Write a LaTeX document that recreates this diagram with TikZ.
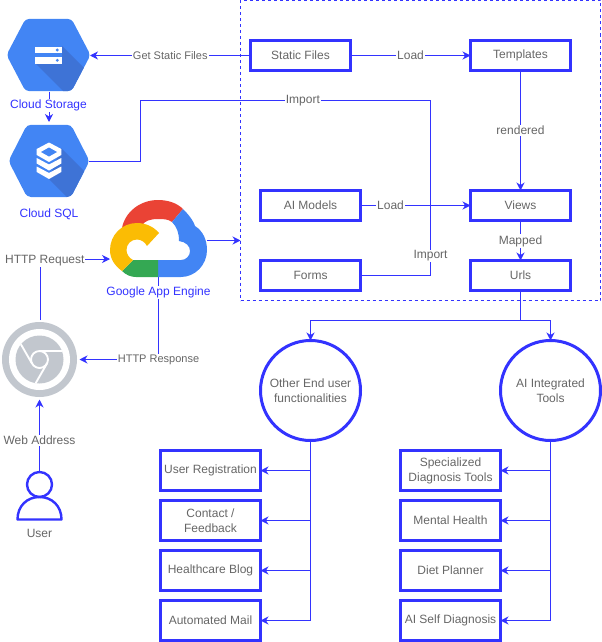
\documentclass[tikz,border=0pt]{standalone}
\usepackage{fontspec}
\setmainfont{Liberation Sans}
\usetikzlibrary{arrows.meta}
\definecolor{edgeblue}{HTML}{3333FF}
\definecolor{txtgray}{HTML}{666666}
\definecolor{gblue}{HTML}{4285F4}
\definecolor{gshade}{HTML}{3E73D6}
\definecolor{gred}{HTML}{EA4335}
\definecolor{gyellow}{HTML}{FBBC04}
\definecolor{ggreen}{HTML}{34A853}
\definecolor{chromegray}{HTML}{C2C7CE}
\tikzset{
  conn/.style={draw=edgeblue,line width=.75pt,-{Stealth[length=6pt,width=6pt,inset=1.9pt]}},
  plainconn/.style={draw=edgeblue,line width=.75pt},
  sq/.style={rectangle,draw=edgeblue,line width=2.25pt,minimum width=75pt,inner sep=0pt,outer sep=0pt,
    text=txtgray,align=center,font=\fontsize{9}{11.25}\selectfont},
  sqshort/.style={sq,minimum height=22.5pt},
  sqtall/.style={sq,minimum height=30pt},
  hub/.style={circle,draw=edgeblue,line width=2.25pt,minimum size=75pt,inner sep=0pt,outer sep=0pt,
    text=txtgray,align=center,font=\fontsize{9}{11.25}\selectfont},
  lbl/.style={fill=white,text=txtgray,inner sep=.75pt,font=\fontsize{9}{11.25}\selectfont},
  smalllbl/.style={lbl,font=\fontsize{8.25}{10.5}\selectfont},
  bluelbl/.style={fill=white,text=edgeblue,inner sep=.75pt,font=\fontsize{9}{11.25}\selectfont},
  grouparea/.style={rectangle,draw=edgeblue,line width=.75pt,dash pattern=on 2.25pt off 2.25pt,
    minimum width=270pt,minimum height=225pt,inner sep=0pt,outer sep=0pt},
  iconarea/.style={rectangle,inner sep=0pt,outer sep=0pt,minimum width=#1}
}
\begin{document}
\begin{tikzpicture}[x=.75pt,y=-.75pt]
\useasboundingbox (0,0) rectangle (602,642);
% group
\node[grouparea] (group) at (420.5,150.5) {};
% icon anchors
\node[iconarea=61.5pt,minimum height=54pt] (storage) at (49,55.5) {};
\node[iconarea=60pt,minimum height=58.5pt] (sql) at (49,161) {};
\node[iconarea=72.75pt,minimum height=57.75pt] (app) at (158.5,238.5) {};
\node[iconarea=60pt,minimum height=60pt] (chrome) at (39.5,359.5) {};
\node[iconarea=33pt,minimum height=36pt] (user) at (39.5,495.5) {};
\coordinate (appIn) at (110,259);
\coordinate (appOut) at (207,240.5);
\coordinate (chromeTop) at (40.5,320);
\coordinate (reqCorner) at (40.5,259);
\coordinate (respCorner) at (158.5,359.5);
\coordinate (importA) at (140.5,100.5);
\coordinate (importB) at (430.5,100.5);
\coordinate (importC) at (140.5,161);
\coordinate (importD) at (430.5,275.5);
\coordinate (split) at (520.5,320.5);
% boxes
\node[sqshort] (static) at (300.5,55.5) {Static Files};
\node[sqshort] (templates) at (520.5,55.5) {Templates};
\node[sqshort] (aimodels) at (310.5,205.5) {AI Models};
\node[sqshort] (views) at (520.5,205.5) {Views};
\node[sqshort] (forms) at (310.5,275.5) {Forms};
\node[sqshort] (urls) at (520.5,275.5) {Urls};
\node[hub] (other) at (310.5,390.5) {Other End user\\functionalities};
\node[hub] (aitools) at (550.5,390.5) {AI Integrated\\Tools};
\node[sqtall] (ureg) at (210.5,470.5) {User Registration};
\node[sqtall] (contact) at (210.5,520.5) {Contact /\\Feedback};
\node[sqtall] (blog) at (210.5,570.5) {Healthcare Blog};
\node[sqtall] (mail) at (210.5,620.5) {Automated Mail};
\node[sqtall] (special) at (450.5,470.5) {Specialized\\Diagnosis Tools};
\node[sqtall] (mental) at (450.5,520.5) {Mental Health};
\node[sqtall] (diet) at (450.5,570.5) {Diet Planner};
\node[sqtall] (selfdiag) at (450.5,620.5) {AI Self Diagnosis};
% connectors
\draw[conn] (static.west) -- node[smalllbl,pos=.5] {Get Static Files} (storage.east);
\draw[conn] (storage.south) -- (sql.north);
\draw[conn] (static.east) -- node[lbl,pos=.5] {Load} (templates.west);
\draw[conn] (templates.south) -- node[lbl,pos=.5] {rendered} (views.north);
\draw[plainconn] (sql.east) -- (importC) -- (importA) -- node[lbl,pos=.56,yshift=-.4pt] {Import} (importB) -- node[lbl,pos=.88,yshift=-1.1pt] {Import} (importD) -- (forms.east);
\draw[conn] (aimodels.east) -- node[lbl,pos=.273] {Load} (views.west);
\draw[conn] (views.south) -- node[lbl,pos=.5,yshift=-.4pt] {Mapped} (urls.north);
\draw[conn] (appOut) -- (group.west |- appOut);
\draw[conn] (chromeTop) -- (reqCorner) node[lbl,xshift=3.2pt,yshift=-1.1pt] {HTTP Request} -- (appIn);
\draw[conn] (app.south) -- (respCorner) -- node[smalllbl,pos=0,yshift=-.6pt] {HTTP Response} (chrome.east);
\draw[conn] (user.north) -- node[lbl,pos=.43] {Web Address} (chrome.south);
\draw[plainconn] (urls.south) -- (split);
\draw[conn] (split) -| (other.north);
\draw[conn] (split) -| (aitools.north);
\foreach \t in {ureg,contact,blog,mail} \draw[conn] (other.south) |- (\t.east);
\foreach \t in {special,mental,diet,selfdiag} \draw[conn] (aitools.south) |- (\t.east);
% Cloud Storage icon
\begin{scope}
  \clip[rounded corners=3pt] (6.5,55) -- (25.5,18.8) -- (71.5,18.8) -- (90.5,55) -- (71.5,91.2) -- (25.5,91.2) -- cycle;
  \fill[gblue] (0,10) rectangle (100,100);
  \fill[gshade] (35,63) -- (62,63) -- (62,46) -- (92,76) -- (92,96) -- (68,96) -- cycle;
\end{scope}
\fill[white] (34.5,46.7) rectangle (62.3,53.3);
\fill[white] (34.5,56.7) rectangle (62.3,64);
\fill[gblue] (57.3,50) circle[radius=1.6];
\fill[gblue] (57.3,60.3) circle[radius=1.6];
% Cloud SQL icon
\begin{scope}
  \clip[rounded corners=3pt] (8.5,161) -- (27,124.8) -- (71,124.8) -- (89.5,161) -- (71,197) -- (27,197) -- cycle;
  \fill[gblue] (0,115) rectangle (100,205);
  \fill[gshade] (61,148) -- (92,179) -- (92,202) -- (72,202) -- (49,179) -- cycle;
\end{scope}
\fill[white] (49,142.5) -- (61.3,149) -- (61.3,155) -- (49,162) -- (36.7,155) -- (36.7,149) -- cycle;
\fill[gblue] (49,147.5) -- (57,152) -- (49,156.5) -- (41,152) -- cycle;
\fill[white] (36.7,158) -- (49,164.5) -- (61.3,158) -- (61.3,163.5) -- (49,170.5) -- (36.7,163.5) -- cycle;
\fill[white] (36.7,166.5) -- (49,173) -- (61.3,166.5) -- (61.3,172) -- (49,179) -- (36.7,172) -- cycle;
% Google Cloud logo
\fill[gred] (122,228) .. controls (125,212) and (140,200) .. (158,200) .. controls (168,200) and (177,203) .. (183,209) -- (172,222) .. controls (168,219) and (163,219) .. (158,219) .. controls (150,219) and (145,221) .. (142,225) -- cycle;
\fill[gblue] (183,209) .. controls (190,216) and (194,222) .. (195,226) .. controls (203,231) and (207,240) .. (207,250) .. controls (207,265) and (195,277) .. (181,277) -- (158,277) -- (158,260) -- (181,260) .. controls (186,260) and (190,256) .. (190,251) .. controls (190,246) and (186,242) .. (179,241) .. controls (179,233) and (177,227) .. (172,222) -- cycle;
\fill[ggreen] (122,271) -- (133,260) -- (158,260) -- (158,277) -- (136,277) .. controls (131,277) and (126,275) .. (122,271) -- cycle;
\fill[gyellow] (122,271) .. controls (115,266) and (110,259) .. (110,250) .. controls (110,235) and (122,223) .. (137,223) .. controls (146,223) and (154,227) .. (159,233) -- (147,246) .. controls (145,242) and (141,239.5) .. (137,239.5) .. controls (131,239.5) and (126.5,244) .. (126.5,250) .. controls (126.5,254) and (129,258) .. (133,260) -- cycle;
% Chrome icon
\fill[chromegray] (39.5,359.5) circle[radius=37.5];
\fill[white] (39.5,359.5) circle[radius=30.5];
\fill[chromegray] (39.5,359.5) circle[radius=24];
\draw[white,line width=1.4pt] (39.5,359.5) circle[radius=8.5];
\foreach \a in {0,120,240}
  \draw[white,line width=1.4pt,rotate around={\a:(39.5,359.5)}] (39.5,351) -- (62,351);
% User icon
\draw[edgeblue,line width=1.8pt] (39.5,484.5) circle[radius=12.5];
\draw[edgeblue,line width=1.8pt,line join=round] (17.5,519.5) .. controls (17.5,506) and (27,497) .. (39.5,497) .. controls (52,497) and (61.5,506) .. (61.5,519.5) -- cycle;
% icon captions
\node[bluelbl,yshift=-.8pt] (storagecap) at (48.5,104.5) {Cloud Storage};
\node[bluelbl,yshift=-.8pt] (sqlcap) at (49,213.5) {Cloud SQL};
\node[bluelbl,yshift=-.8pt] (appcap) at (158.5,291.5) {Google App Engine};
\node[lbl] (usercap) at (39.5,533.5) {User};
\end{tikzpicture}
\end{document}
